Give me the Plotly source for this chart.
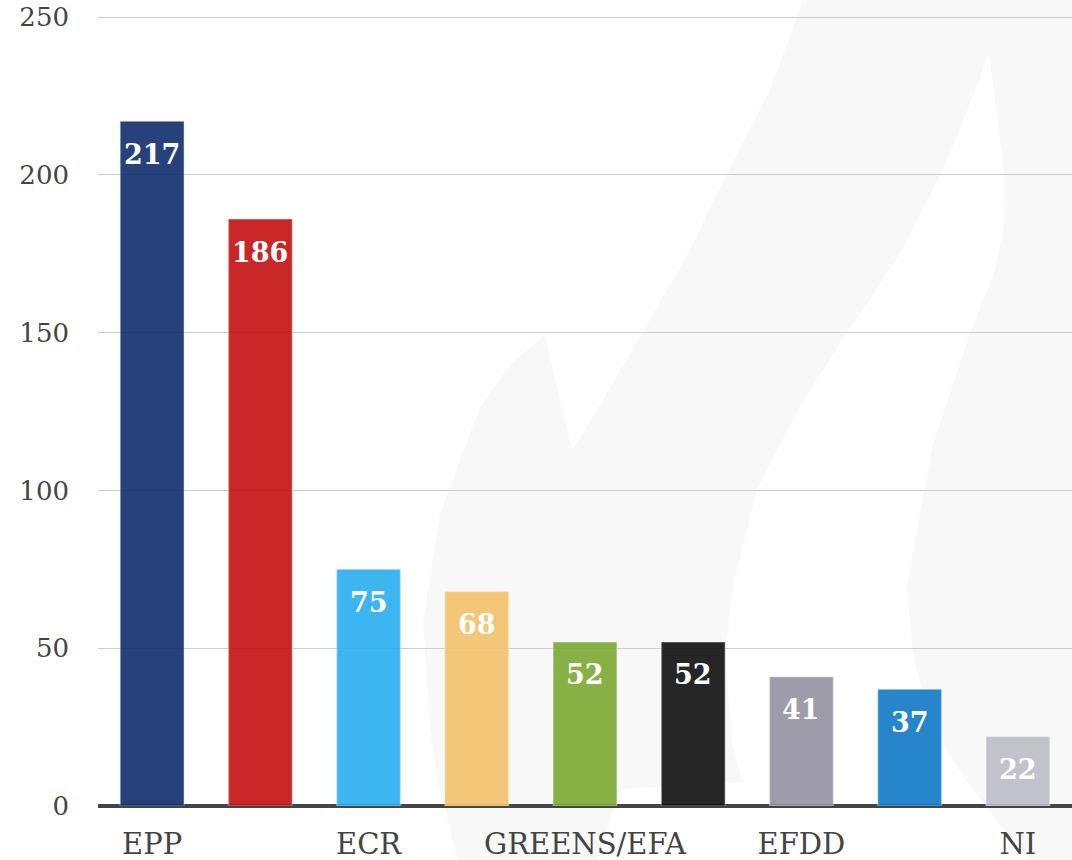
import plotly.graph_objects as go

# ---- data ----
groups = ["EPP", "S&D", "ECR", "ALDE", "GREENS/EFA", "GUE/NGL", "EFDD", "ENF", "NI"]
seats = [217, 186, 75, 68, 52, 52, 41, 37, 22]
bar_colors = [
    "rgba(15,46,107,0.9)", "rgba(195,15,15,0.9)", "rgba(40,173,238,0.9)",
    "rgba(243,192,104,0.9)", "rgba(122,169,48,0.9)", "rgba(14,14,14,0.9)",
    "rgba(147,145,162,0.9)", "rgba(16,121,197,0.9)", "rgba(187,187,198,0.9)",
]
shown_ticks = ["EPP", "ECR", "GREENS/EFA", "EFDD", "NI"]
y_ticks = [0, 50, 100, 150, 200, 250]

W, H = 1072, 860
# target: value 0 at y 806, value 250 at y 17
Y_TOP = 251
PX_PER_UNIT = (806 - 17) / 250
plot_top = 806 - Y_TOP * PX_PER_UNIT
L, R, T, B = 98, 0, plot_top, 860 - 806
FONT = "Georgia, 'DejaVu Serif', serif"


def px(x, y):
    """pixel -> paper coords"""
    xl, xr = 98, 1072
    yt, yb = plot_top, 806
    return (x - xl) / (xr - xl), (yb - y) / (yb - yt)


def path(points):
    pts = [px(x, y) for x, y in points]
    return "M " + " L ".join(f"{a:.4f},{b:.4f}" for a, b in pts) + " Z"


# faint watermark (decorative background)
main_shape = [
    (805, -5), (1080, -5), (1080, 870), (1040, 870), (1000, 825), (967, 782),
    (933, 729), (913, 657), (907, 586), (913, 550), (933, 443), (970, 333),
    (995, 270), (1005, 220), (1004, 170), (989, 53), (960, 130), (940, 175),
    (905, 245), (870, 300), (846, 333), (800, 407), (757, 489), (733, 586),
    (725, 657), (733, 746), (743, 782), (620, 789), (595, 870), (460, 870),
    (440, 790), (430, 729), (423, 621), (440, 514), (480, 407), (510, 365),
    (545, 334), (572, 450), (600, 405), (642, 333), (690, 250), (726, 175),
    (770, 90),
]

fig = go.Figure()
fig.add_trace(go.Bar(
    x=groups, y=seats,
    marker=dict(color=bar_colors, line=dict(color="rgba(255,255,255,0.3)", width=1.5)),
    hoverinfo="x+y",
))

annotations = [
    dict(x=g, y=v, xref="x", yref="y", text=f"<b>{v}</b>", showarrow=False,
         yanchor="middle", yshift=-33,
         font=dict(family=FONT, size=27, color="white"))
    for g, v in zip(groups, seats)
]

fig.update_layout(
    width=W, height=H,
    margin=dict(l=L, r=R, t=T, b=B, autoexpand=False),
    paper_bgcolor="white", plot_bgcolor="rgba(0,0,0,0)",
    showlegend=False,
    bargap=0.41,
    annotations=annotations,
    shapes=[dict(type="path", xref="paper", yref="paper", path=path(main_shape),
                 fillcolor="#f8f8f8", line=dict(width=0), layer="below")],
    xaxis=dict(
        tickmode="array", tickvals=shown_ticks, ticktext=shown_ticks,
        tickfont=dict(family=FONT, size=29, color="#444444"),
        showgrid=False, ticks="", showline=False, zeroline=False,
        ticklabelstandoff=18, automargin=False,
    ),
    yaxis=dict(
        range=[0, Y_TOP], tickvals=y_ticks,
        tickfont=dict(family=FONT, size=26, color="#444444"),
        showgrid=True, gridcolor="#cccccc", gridwidth=1,
        zeroline=True, zerolinecolor="#444444", zerolinewidth=4,
        ticks="", showline=False, ticklabelstandoff=28,
        ticklabeloverflow="allow", automargin=False,
    ),
)

fig.write_html(
    "out.html",
    config={"displayModeBar": False},
    post_script="document.body.style.margin='0';document.body.style.overflow='hidden';",
)
